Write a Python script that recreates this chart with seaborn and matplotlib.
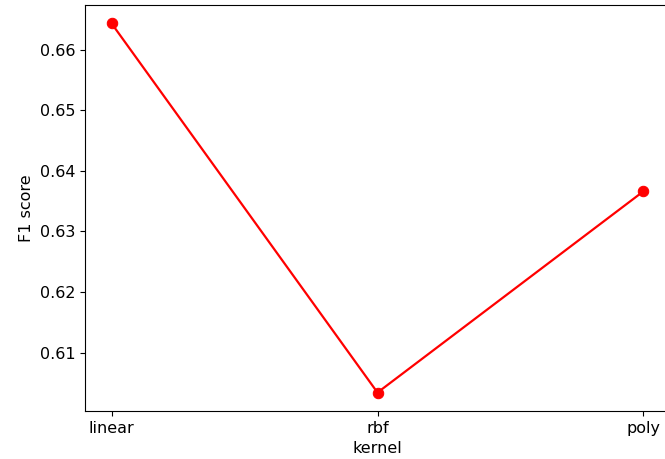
import pandas as pd
import matplotlib
matplotlib.use("Agg")
import matplotlib.pyplot as plt
import seaborn as sns

# kernel names and their F1 scores
kernels = ["linear", "rbf", "poly"]
f1_scores = [0.6643, 0.6034, 0.6366]

df = pd.DataFrame({"kernel": kernels, "F1 score": f1_scores})

plt.rcParams["font.size"] = 11.5

fig = plt.figure(figsize=(6.65, 4.59), dpi=100)
# right spine runs off the edge in the original
ax = fig.add_axes([85 / 665, 48 / 459, 585 / 665, 406 / 459])

sns.lineplot(data=df, x="kernel", y="F1 score", color="red", marker="o",
             markersize=7.5, markeredgecolor="red", linewidth=1.6, ax=ax)

ax.set_yticks([0.61, 0.62, 0.63, 0.64, 0.65, 0.66])

fig.savefig("out.png", dpi=100)
